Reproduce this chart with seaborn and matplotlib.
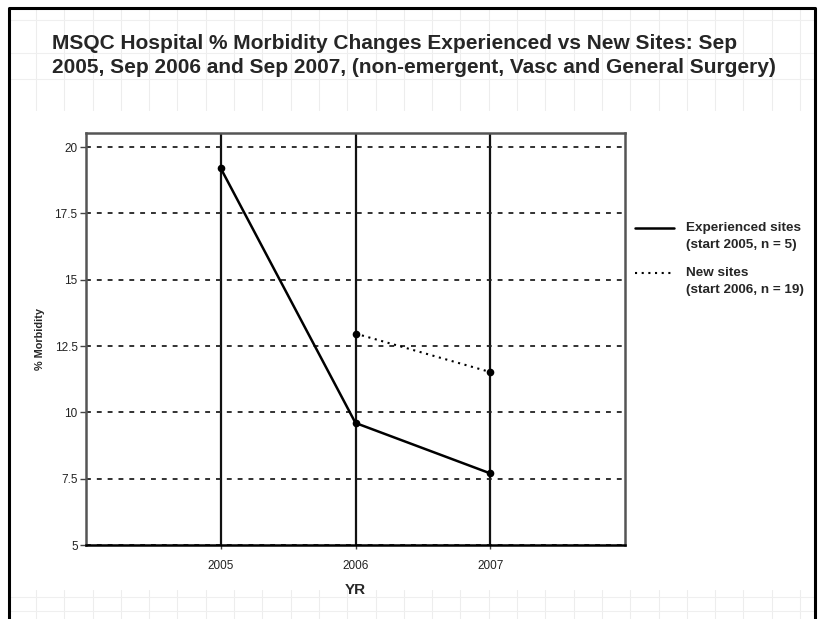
import numpy as np
import pandas as pd
import matplotlib
matplotlib.use('Agg')
import matplotlib.pyplot as plt
from matplotlib.lines import Line2D
import seaborn as sns

# values
years = [2005, 2006, 2007]
experienced = [19.2, 9.6, 7.7]
new_years = [2006, 2007]
new_sites = [12.97, 11.52]

y_ticks = [5, 7.5, 10, 12.5, 15, 17.5, 20]
y_tick_labels = ['5', '7.5', '10', '12.5', '15', '17.5', '20']
x_tick_labels = ['2005', '2006', '2007']

title_lines = ['MSQC Hospital % Morbidity Changes Experienced vs New Sites: Sep',
               '2005, Sep 2006 and Sep 2007, (non-emergent, Vasc and General Surgery)']
legend_text = [('Experienced sites', '(start 2005, n = 5)'),
               ('New sites', '(start 2006, n = 19)')]

W, H = 820, 619
DOTTED = (0, (1, 2.2))


def fx(px):
    return px / W


def fy(py):
    return 1 - py / H


def main():
    sns.set_style('white')
    plt.rcParams['font.family'] = ['Liberation Sans', 'DejaVu Sans']

    df_exp = pd.DataFrame({'YR': years, 'morbidity': experienced})
    df_new = pd.DataFrame({'YR': new_years, 'morbidity': new_sites})

    fig = plt.figure(figsize=(8.2, 6.19), dpi=100)

    # faint background grid of the slide
    for x in np.arange(36, 816, 28.3):
        fig.add_artist(Line2D([fx(x)] * 2, [fy(8), fy(110)], color='#ededed', lw=0.8, zorder=0))
        fig.add_artist(Line2D([fx(x)] * 2, [fy(590), 0], color='#ededed', lw=0.8, zorder=0))
    for y in [20, 53, 79, 597, 611]:
        fig.add_artist(Line2D([fx(8), fx(816)], [fy(y)] * 2, color='#efefef', lw=0.8, zorder=0))

    # outer frame
    fig.add_artist(Line2D([fx(9), fx(9), fx(815), fx(815)], [0, fy(8), fy(8), 0],
                          color='black', lw=2.2, zorder=1))

    ax = fig.add_axes([fx(86), fy(545), fx(625) - fx(86), fy(133) - fy(545)])
    ax.set_facecolor('white')

    sns.lineplot(data=df_exp, x='YR', y='morbidity', ax=ax, color='black', lw=1.8,
                 marker='o', markersize=5.5, markeredgewidth=0, zorder=5)
    sns.lineplot(data=df_new, x='YR', y='morbidity', ax=ax, color='black', lw=1.5,
                 linestyle=DOTTED, marker='o', markersize=5.5, markeredgewidth=0, zorder=5)

    ax.set_xlim(2004, 2008)
    ax.set_ylim(5, 20.53)
    ax.set_xticks(years)
    ax.set_xticklabels(x_tick_labels)
    ax.set_yticks(y_ticks)
    ax.set_yticklabels(y_tick_labels)

    ax.set_axisbelow(True)
    ax.yaxis.grid(True, linestyle=(0, (2.7, 3.3)), color='#222222', lw=1.3)
    ax.xaxis.grid(True, linestyle='-', color='#111111', lw=1.6)

    for side in ['left', 'right', 'top']:
        ax.spines[side].set_color('#555555')
        ax.spines[side].set_linewidth(1.8)
    ax.spines['bottom'].set_color('black')
    ax.spines['bottom'].set_linewidth(1.8)

    ax.tick_params(axis='y', direction='out', length=4, width=1, color='#444444',
                   labelsize=8.5, labelcolor='#222222', pad=2, left=True)
    ax.tick_params(axis='x', direction='out', length=3, width=1, color='#444444',
                   labelsize=8.5, labelcolor='#222222', pad=8, bottom=True)

    ax.set_ylabel('% Morbidity', fontsize=7.8, fontweight='bold', labelpad=7)
    ax.set_xlabel('YR', fontsize=11, fontweight='bold', labelpad=8)

    # title
    fig.text(fx(52), fy(49), title_lines[0], fontsize=15, fontweight='bold', va='baseline')
    fig.text(fx(52), fy(73), title_lines[1], fontsize=15, fontweight='bold', va='baseline')

    # legend, handle aligned with the first text line
    styles = [('-', 1.8), (DOTTED, 1.5)]
    for (first, second), (ls, lw), yc in zip(legend_text, styles, [228, 273]):
        fig.add_artist(Line2D([fx(635), fx(674)], [fy(yc)] * 2, color='black',
                              linestyle=ls, lw=lw))
        fig.text(fx(686), fy(yc), first, fontsize=9.7, fontweight='bold', va='center')
        fig.text(fx(686), fy(yc + 17), second, fontsize=9.7, fontweight='bold', va='center')

    fig.savefig('out.png', dpi=100)


if __name__ == '__main__':
    main()
